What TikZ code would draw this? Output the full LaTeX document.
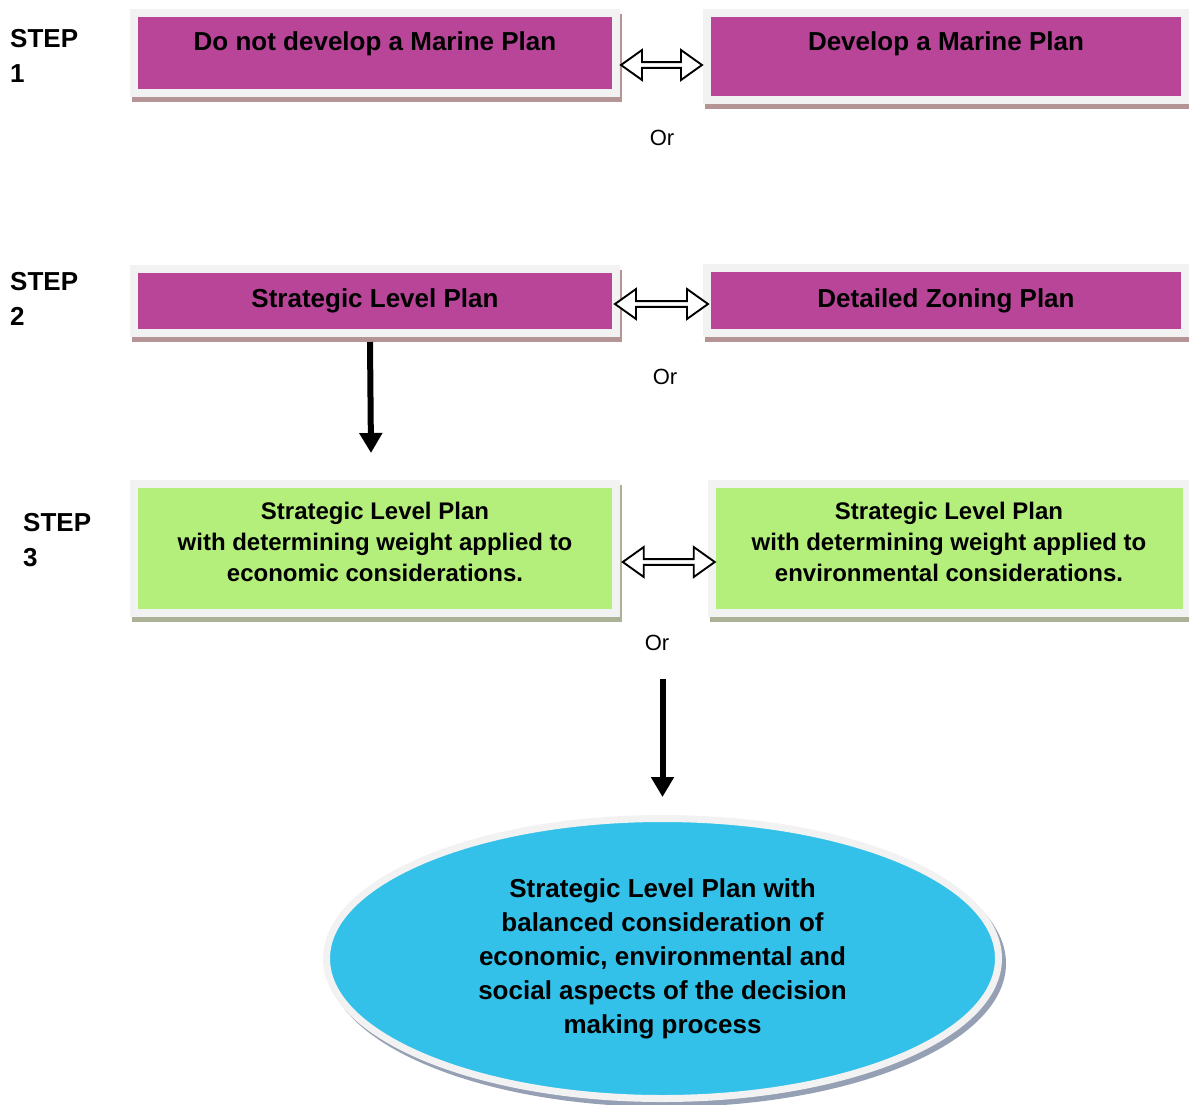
\documentclass[tikz,border=0pt]{standalone}
\usepackage{fontspec}
\setmainfont{Liberation Sans}
\usetikzlibrary{arrows.meta,shapes.geometric,shapes.arrows,backgrounds}

\definecolor{plum}{RGB}{185,69,153}
\definecolor{lime}{RGB}{180,238,123}
\definecolor{sky}{RGB}{51,193,233}
\definecolor{rim}{RGB}{242,242,242}
\definecolor{plumshade}{RGB}{180,148,148}
\definecolor{limeshade}{RGB}{170,177,148}
\definecolor{skyshade}{RGB}{150,160,180}

\begin{document}
\begin{tikzpicture}[x=1pt,y=-1pt,
    planbox/.style={rectangle, draw=rim, line width=8pt, inner sep=0pt, align=center},
    toprow/.style={planbox, fill=plum, font=\bfseries\fontsize{26}{31}\selectfont},
    lowrow/.style={planbox, fill=lime, font=\bfseries\fontsize{24}{31}\selectfont},
    steplabel/.style={anchor=west, align=left, inner sep=0pt, font=\bfseries\fontsize{26}{35}\selectfont},
    orlabel/.style={inner sep=0pt, font=\fontsize{22}{26}\selectfont},
    twoway/.style={double arrow, draw, fill=white, line width=1.9pt, inner sep=0pt,
        minimum width=30pt, double arrow head extend=4pt, double arrow tip angle=71,
        minimum height=#1},
    godown/.style={line width=6pt, -{Triangle[length=20pt,width=22pt]}}]

        \useasboundingbox (0,0) rectangle (1189,1104);

        % step labels
        \node[steplabel] (step1) at (10,56) {STEP\\1};
        \node[steplabel] (step2) at (10,299) {STEP\\2};
        \node[steplabel] (step3) at (23,540) {STEP\\3};

        % step 1
        \node[toprow, minimum width=482pt, minimum height=80pt, text depth=23pt] (noplan) at (375,53) {Do not develop a Marine Plan};
        \node[toprow, minimum width=478pt, minimum height=87pt, text depth=30pt] (plan) at (946,56.5) {Develop a Marine Plan};

        % step 2
        \node[toprow, minimum width=482pt, minimum height=64pt] (strat) at (375,301) {Strategic Level Plan};
        \node[toprow, minimum width=478pt, minimum height=65pt] (zoning) at (946,300.5) {Detailed Zoning Plan};

        % step 3
        \node[lowrow, minimum width=482pt, minimum height=129pt, text depth=14pt] (econ) at (375,548.5)
            {Strategic Level Plan\\with determining weight applied to\\economic considerations.};
        \node[lowrow, minimum width=475pt, minimum height=129pt, text depth=14pt] (env) at (949,548.5)
            {Strategic Level Plan\\with determining weight applied to\\environmental considerations.};

        % outcome
        \node[ellipse, fill=sky, draw=rim, line width=7pt, minimum width=672pt, minimum height=280pt,
            inner sep=0pt, align=center, font=\bfseries\fontsize{26}{34}\selectfont] (balance) at (662.5,958.5)
            {Strategic Level Plan with\\balanced consideration of\\economic, environmental and\\social aspects of the decision\\making process};

        \begin{scope}[on background layer]
            \foreach \n/\c in {noplan/plumshade, plan/plumshade, strat/plumshade, zoning/plumshade, econ/limeshade, env/limeshade}
                \fill[\c] ([shift={(2,5)}]\n.north west) rectangle ([shift={(2,5)}]\n.south east);
            \fill[skyshade] ([shift={(4,5)}]balance.center) ellipse [x radius=339.5, y radius=143.5];
        \end{scope}

        % either way
        \path ([shift={(0,12)}]noplan.east) -- ([shift={(0,8.5)}]plan.west) node[twoway=81pt, midway] (link1) {};
        \path ([shift={(0,3)}]strat.east) -- ([shift={(0,3.5)}]zoning.west) node[twoway=93pt, midway] (link2) {};
        \path ([shift={(5,13.5)}]econ.east) -- ([shift={(5,13.5)}]env.west) node[twoway=92pt, midway] (link3) {};

        \node[orlabel] (or1) at (662,138) {Or};
        \node[orlabel] (or2) at (665,377) {Or};
        \node[orlabel] (or3) at (657,643) {Or};

        \draw[godown] ([shift={(-5,5)}]strat.south) -- ([shift={(-4,-27)}]econ.north);
        \draw[godown] ([shift={(0,-136)}]balance.north) -- ([shift={(0,-18)}]balance.north);

    \end{tikzpicture}
\end{document}
